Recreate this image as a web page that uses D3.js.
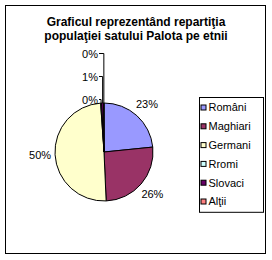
<!DOCTYPE html>
<html>
<head>
<meta charset="utf-8">
<script src="https://cdnjs.cloudflare.com/ajax/libs/d3/7.8.5/d3.min.js"></script>
<style>
  body { margin: 0; background: #fff; }
  text { font-family: "Liberation Sans", Arial, sans-serif; fill: #000; }
</style>
</head>
<body>
<div id="chart"></div>
<script>
// Data (percent of population)
var groups = ["Români", "Maghiari", "Germani", "Rromi", "Slovaci", "Alţii"];
var shares = [23.4, 25.9, 49.6, 0.3, 0.7, 0.1];
var colors = ["#9999ff", "#993366", "#ffffcc", "#ccffff", "#660066", "#ff8080"];
var titleLines = ["Graficul reprezentând repartiţia", "populaţiei satului Palota pe etnii"];

var width = 272, height = 260;
var cx = 104, cy = 152, radius = 49;
var labelRadius = 64;
var smallCut = 2; // slices under 2% get stacked labels with leaders

var data = groups.map(function(g, i) { return {name: g, value: shares[i], color: colors[i]}; });
var total = d3.sum(shares);

var svg = d3.select("#chart").append("svg")
  .attr("width", width)
  .attr("height", height);

// chart frame
svg.append("rect")
  .attr("x", 5.5).attr("y", 5.5)
  .attr("width", 260).attr("height", 248)
  .attr("fill", "#fff")
  .attr("stroke", "#000")
  .attr("stroke-width", 1);

// title
svg.append("text")
  .attr("x", 136).attr("y", 26)
  .attr("text-anchor", "middle")
  .style("font-size", "12px")
  .style("font-weight", "bold")
  .selectAll("tspan")
  .data(titleLines)
  .enter().append("tspan")
  .attr("x", 136)
  .attr("dy", function(d, i) { return i ? 14 : 0; })
  .text(function(d) { return d; });

var pie = d3.pie().sort(null).value(function(d) { return d.value; });
var arcs = pie(data);
var arc = d3.arc().innerRadius(0).outerRadius(radius);

var g = svg.append("g").attr("transform", "translate(" + cx + "," + cy + ")");

g.selectAll("path.slice")
  .data(arcs)
  .enter().append("path")
  .attr("class", "slice")
  .attr("d", arc)
  .attr("fill", function(d) { return d.data.color; })
  .attr("stroke", "#000")
  .attr("stroke-width", 1);

function pct(d) { return Math.round(d.data.value / total * 100) + "%"; }

// regular labels outside the pie
var big = arcs.filter(function(d) { return d.data.value >= smallCut; });
g.selectAll("text.lbl")
  .data(big)
  .enter().append("text")
  .attr("class", "lbl")
  .attr("x", function(d) { var a = (d.startAngle + d.endAngle) / 2; return labelRadius * Math.sin(a); })
  .attr("y", function(d) { var a = (d.startAngle + d.endAngle) / 2; return -labelRadius * Math.cos(a); })
  .attr("dy", "0.35em")
  .attr("text-anchor", "middle")
  .style("font-size", "11px")
  .text(pct);

// tiny slices: labels stacked above the pie, joined with leader lines
var small = arcs.filter(function(d) { return d.data.value < smallCut; });
var step = 23;
small.forEach(function(d, i) {
  var a = (d.startAngle + d.endAngle) / 2;
  var ex = radius * Math.sin(a), ey = -radius * Math.cos(a);
  var by = -radius + 0.5 - i * step;
  var tx = -6;
  g.append("text")
    .attr("x", tx).attr("y", by)
    .attr("text-anchor", "end")
    .style("font-size", "11px")
    .text(pct(d));
  g.append("path")
    .attr("d", d3.line()([[tx + 1, by - 4], [ex, by - 4], [ex, ey]]))
    .attr("fill", "none")
    .attr("stroke", "#000")
    .attr("stroke-width", 1);
});

// legend
var lx = 199.5, ly = 97.5, rowH = 18.8;
var legend = svg.append("g");
legend.append("rect")
  .attr("x", lx).attr("y", ly)
  .attr("width", 64).attr("height", rowH * groups.length + 2)
  .attr("fill", "#fff")
  .attr("stroke", "#000")
  .attr("stroke-width", 1);

var rows = legend.selectAll("g.row")
  .data(data)
  .enter().append("g")
  .attr("class", "row")
  .attr("transform", function(d, i) { return "translate(" + lx + "," + (ly + 10 + i * rowH) + ")"; });

rows.append("rect")
  .attr("x", 1.5).attr("y", -2.5)
  .attr("width", 5).attr("height", 5)
  .attr("fill", function(d) { return d.color; })
  .attr("stroke", "#000")
  .attr("stroke-width", 1);

rows.append("text")
  .attr("x", 9).attr("y", 0)
  .attr("dy", "0.35em")
  .style("font-size", "11px")
  .text(function(d) { return d.name; });
</script>
</body>
</html>
